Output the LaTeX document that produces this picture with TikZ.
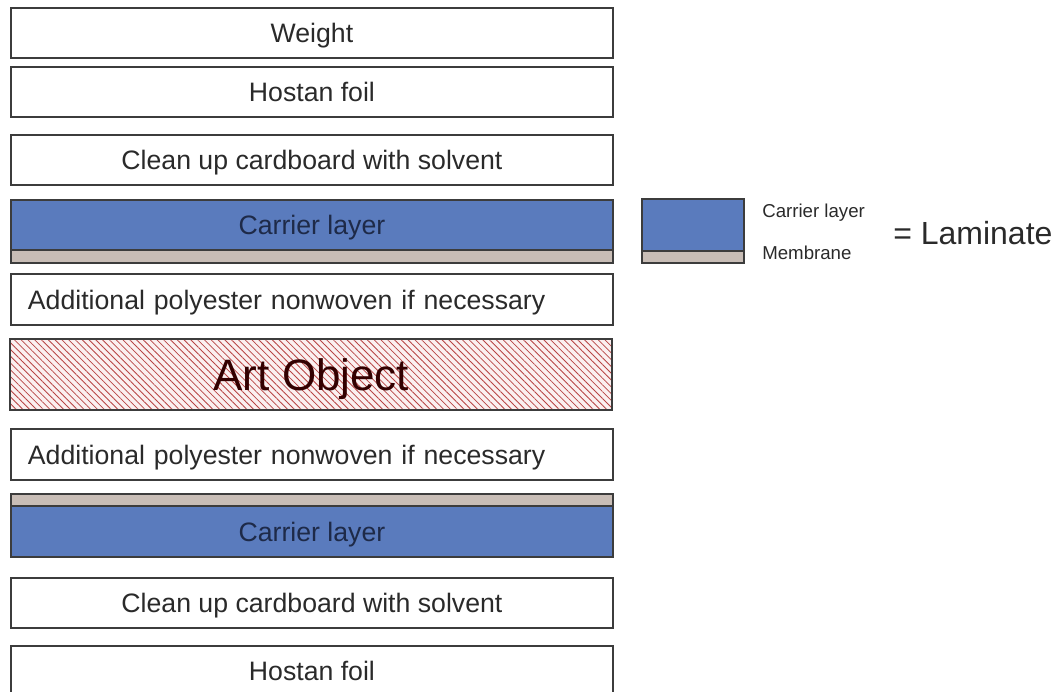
\documentclass[tikz,border=0pt]{standalone}
\usepackage{fontspec}
\setmainfont{Liberation Sans}
\usetikzlibrary{patterns.meta}

\definecolor{carrierblue}{HTML}{5A7BBD}
\definecolor{membranegray}{HTML}{C8BDB6}
\definecolor{framegray}{HTML}{3C3C3C}
\definecolor{textgray}{HTML}{2A2A2A}
\definecolor{carriertext}{HTML}{1E2A48}
\definecolor{artpink}{HTML}{FBF0F0}
\definecolor{hatchred}{HTML}{B84444}

\tikzset{
  layer/.style={draw=framegray, line width=1.4pt, anchor=north west, inner sep=0pt,
    minimum width=451.5pt, minimum height=#1, text=textgray, text depth=0pt,
    font=\fontsize{20}{24}\selectfont},
  layer/.default=37.5pt,
  carrier/.style={layer=#1, fill=carrierblue, text=carriertext},
  membrane/.style={layer=#1, fill=membranegray},
  fleece/.style={layer=38.25pt, inner xsep=12.75pt, text width=426pt, align=left},
  artobj/.style={layer=53.25pt, preaction={fill=artpink},
    pattern={Lines[angle=-45, distance=3.6pt, line width=0.6pt]}, pattern color=hatchred,
    text=black!80!red, font=\fontsize{33}{40}\selectfont},
  legendtext/.style={anchor=west, inner sep=0pt, text=textgray, font=\fontsize{14}{16}\selectfont}
}

\begin{document}
\begin{tikzpicture}[x=0.75pt, y=-0.75pt]
  \useasboundingbox (0,0) rectangle (1061,692);
  \clip (0,0) rectangle (1061,692);

  % stack, top to bottom
  \node [layer] (weight) at (10,7) {Weight};
  \node [layer] (hostan1) at (10,66) {Hostan foil};
  \node [layer] (clean1) at (10,134) {Clean up cardboard with solvent};
  \node [carrier=37.5pt] (carrier1) at (10,199) {Carrier layer};
  \node [membrane=9.75pt] (membrane1) at (10,249) {};
  \node [fleece] (fleece1) at (10,273) {Additional polyester nonwoven if necessary};
  \node [artobj] (art) at (10,339) {Art Object};
  \node [fleece] (fleece2) at (10,428) {Additional polyester nonwoven if necessary};
  \node [membrane=9pt] (membrane2) at (10,493) {};
  \node [carrier=38.25pt] (carrier2) at (10,505) {Carrier layer};
  \node [layer] (clean2) at (10,577) {Clean up cardboard with solvent};
  \node [layer] (hostan2) at (10,645) {Hostan foil};

  % legend
  \node [carrier=39pt, minimum width=76.5pt] (lgcarrier) at (641,198) {};
  \node [membrane=9pt, minimum width=76.5pt] (lgmembrane) at (641,250) {};
  \node [legendtext] (lgcarriertxt) at (762,213) {Carrier layer};
  \node [legendtext] (lgmembranetxt) at (762,253) {Membrane};
  \node [legendtext, font=\fontsize{24}{27}\selectfont] (laminate) at (893,233) {= Laminate};
\end{tikzpicture}
\end{document}
